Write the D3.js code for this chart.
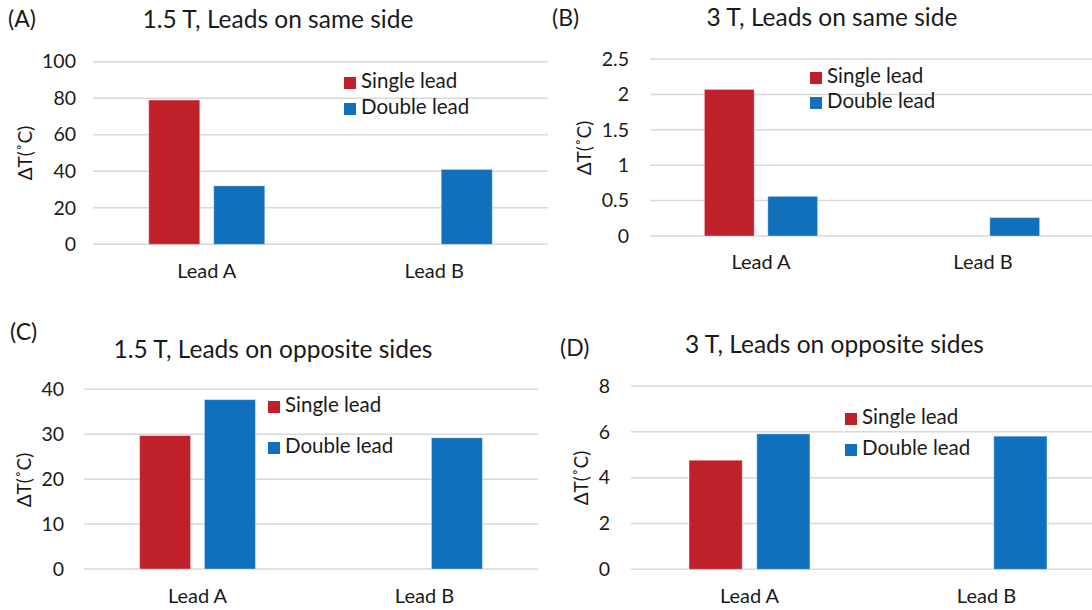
<!DOCTYPE html>
<html>
<head>
<meta charset="utf-8">
<script src="https://cdn.jsdelivr.net/npm/d3@7"></script>
<style>
  body { margin: 0; background: #fff; }
  text { font-family: Lato, "Noto Sans", sans-serif; fill: #1a1a1a; }
</style>
</head>
<body>
<script>
const width = 1092;
const height = 610;

// Shared categories and series
const categories = ["Lead A", "Lead B"];
const seriesNames = ["Single lead", "Double lead"];
const seriesColors = ["#C0202A", "#1170BC"];

// Panel A: 1.5 T, leads on same side
const singleA = [79, null];
const doubleA = [32, 41];
const ticksA = [0, 20, 40, 60, 80, 100];

// Panel B: 3 T, leads on same side
const singleB = [2.07, null];
const doubleB = [0.56, 0.26];
const ticksB = [0, 0.5, 1, 1.5, 2, 2.5];

// Panel C: 1.5 T, leads on opposite sides
const singleC = [29.7, null];
const doubleC = [37.7, 29.2];
const ticksC = [0, 10, 20, 30, 40];

// Panel D: 3 T, leads on opposite sides
const singleD = [4.76, null];
const doubleD = [5.91, 5.81];
const ticksD = [0, 2, 4, 6, 8];

let svg = d3.select("body")
    .append("svg")
    .attr("width", width)
    .attr("height", height);

const panels = [
    {tag: "(A)", title: "1.5 T, Leads on same side", values: [singleA, doubleA], ticks: ticksA,
     x: [93, 548], y: [244.3, 61.7], tagPos: [8, 21], titlePos: [278, 22], yLabPos: [27, 153],
     tickRight: 76, catY: 273, legend: [344, 77, 103]},
    {tag: "(B)", title: "3 T, Leads on same side", values: [singleB, doubleB], ticks: ticksB,
     x: [650, 1094], y: [236, 59], tagPos: [552, 20], titlePos: [832, 20], yLabPos: [586, 148],
     tickRight: 629, catY: 264, legend: [810, 72, 97]},
    {tag: "(C)", title: "1.5 T, Leads on opposite sides", values: [singleC, doubleC], ticks: ticksC,
     x: [84, 538], y: [569, 389.3], tagPos: [10, 334], titlePos: [273, 352], yLabPos: [26, 480],
     tickRight: 64, catY: 598, legend: [268, 401, 442]},
    {tag: "(D)", title: "3 T, Leads on opposite sides", values: [singleD, doubleD], ticks: ticksD,
     x: [631, 1105], y: [569.3, 386], tagPos: [560, 350], titlePos: [834.5, 347], yLabPos: [583, 478],
     tickRight: 610, catY: 598, legend: [845, 413, 444]}
];

function drawPanel(p) {
    let g = svg.append("g");

    let yScale = d3.scaleLinear()
        .domain([0, d3.max(p.ticks)])
        .range(p.y);

    let x0 = d3.scaleBand()
        .domain(categories)
        .range(p.x);

    // Excel-like cluster: the group takes about half of each category band
    let groupW = x0.bandwidth() * 0.51;
    let x1 = d3.scaleBand()
        .domain(seriesNames)
        .range([0, groupW])
        .paddingInner(0.215);

    // Gridlines
    g.append("g")
        .selectAll("line")
        .data(p.ticks)
        .join("line")
        .attr("x1", p.x[0])
        .attr("x2", p.x[1])
        .attr("y1", d => yScale(d))
        .attr("y2", d => yScale(d))
        .attr("stroke", "#d9d9d9")
        .attr("stroke-width", 1.5);

    // Left axis labels (no domain line, no tick marks)
    let leftAxis = d3.axisLeft(yScale)
        .tickValues(p.ticks)
        .tickSize(0)
        .tickPadding(0)
        .tickFormat(d3.format("~g"));
    let axisG = g.append("g")
        .attr("transform", `translate(${p.tickRight}, 0)`)
        .call(leftAxis);
    axisG.select(".domain").remove();
    axisG.selectAll("text")
        .style("font-family", "Lato, 'Noto Sans', sans-serif")
        .style("font-size", "19.5px")
        .attr("fill", "#1a1a1a");

    // Bars
    let rows = [];
    categories.forEach((c, i) => {
        seriesNames.forEach((s, j) => {
            let v = p.values[j][i];
            if (v !== null) rows.push({cat: c, series: s, value: v, color: seriesColors[j]});
        });
    });
    g.append("g")
        .selectAll("rect")
        .data(rows)
        .join("rect")
        .attr("x", d => x0(d.cat) + (x0.bandwidth() - groupW) / 2 + x1(d.series))
        .attr("y", d => yScale(d.value))
        .attr("width", x1.bandwidth())
        .attr("height", d => yScale(0) - yScale(d.value))
        .attr("fill", d => d.color)
        .attr("stroke", "#ffffff")
        .attr("stroke-opacity", 0.35)
        .attr("stroke-width", 1);

    // Category labels
    g.append("g")
        .selectAll("text")
        .data(categories)
        .join("text")
        .attr("x", d => x0(d) + x0.bandwidth() / 2)
        .attr("y", p.catY)
        .attr("text-anchor", "middle")
        .attr("dominant-baseline", "middle")
        .style("font-size", "20px")
        .text(d => d);

    // Title and panel tag
    g.append("text")
        .attr("x", p.titlePos[0])
        .attr("y", p.titlePos[1])
        .attr("text-anchor", "middle")
        .attr("dominant-baseline", "middle")
        .style("font-size", "24.5px")
        .text(p.title);
    g.append("text")
        .attr("x", p.tagPos[0])
        .attr("y", p.tagPos[1])
        .attr("dominant-baseline", "middle")
        .style("font-size", "23px")
        .text(p.tag);

    // Y axis label
    g.append("text")
        .attr("transform", `translate(${p.yLabPos[0]}, ${p.yLabPos[1]}) rotate(-90)`)
        .attr("text-anchor", "middle")
        .attr("dominant-baseline", "middle")
        .style("font-size", "19px")
        .text("ΔT(˚C)");

    // Legend
    let legend = g.append("g")
        .selectAll("g")
        .data(seriesNames)
        .join("g")
        .attr("transform", (d, i) => `translate(${p.legend[0]}, ${p.legend[i + 1]})`);
    legend.append("rect")
        .attr("width", 12)
        .attr("height", 12)
        .attr("fill", (d, i) => seriesColors[i]);
    legend.append("text")
        .attr("x", 17)
        .attr("y", 6)
        .attr("dominant-baseline", "middle")
        .style("font-size", "20.5px")
        .text(d => d);
}

panels.forEach(drawPanel);
</script>
</body>
</html>
